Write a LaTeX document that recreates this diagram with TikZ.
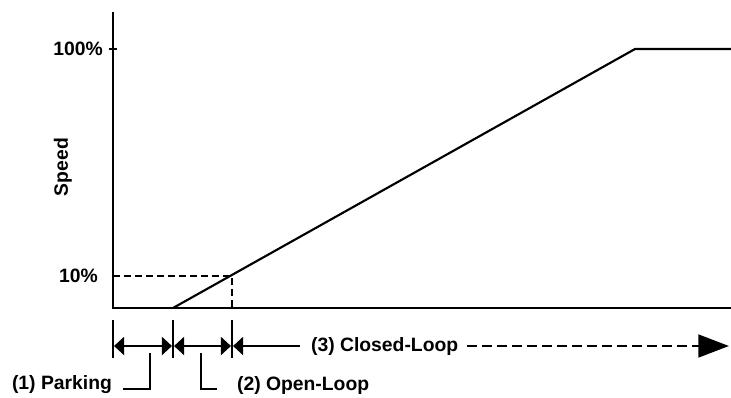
\documentclass[tikz,border=0pt]{standalone}
\usepackage{fontspec}
\setmainfont{Liberation Sans}
\usetikzlibrary{arrows.meta}
\usetikzlibrary{positioning}
\tikzset{lbl/.style = {font=\fontsize{14.5}{17}\selectfont\bfseries, inner sep=0pt},
         tip/.tip = {Triangle[length=7.5pt, width=13.5pt]},
         bigtip/.tip = {Triangle[length=23pt, width=17pt]}}

\begin{document}
\begin{tikzpicture}[x=0.75pt, y=-0.75pt, line width=1.6pt]
    \useasboundingbox (0,0) rectangle (731,397);
    % axes
    \coordinate (top) at (113,12);
    \coordinate (O) at (113,308);
    \coordinate (right) at (731,308);
    \draw (top) -- (O) -- (right);
    \draw (109,49) -- (117,49);
    \node [lbl, anchor=east] (full) at (104,49) {100\%};
    \node [lbl, anchor=east] (ten) at (99,276) {10\%};
    \node [lbl, rotate=90] (speed) at (63,167) {Speed};

    % speed ramp
    \draw (173,308) -- (635,49) -- (731,49);
    \draw [line width=2pt, dash pattern=on 5.25pt off 3pt] (113,276) -- (232,276) -- (232,308);

    % phases
    \foreach \x/\n in {113/a, 173/b, 232/c} {
      \draw (\x,320) -- (\x,358);
      \coordinate (\n) at (\x,346);
    }
    \draw [tip-tip, shorten <=0.8pt, shorten >=0.8pt] (a) -- (b);
    \draw [tip-tip, shorten <=0.8pt, shorten >=0.8pt] (b) -- (c);
    \node [lbl, anchor=west] (closed) at (310,346) {(3) Closed-Loop};
    \coordinate (cl) at (300,346);
    \draw [tip-, shorten <=0.8pt] (c) -- (cl);
    \coordinate (dl) at ([xshift=6pt]closed.east);
    \coordinate (end) at (729,346);
    \draw [line width=2pt, dash pattern=on 7.5pt off 3.75pt, -bigtip] (dl) -- (end);

    \node [lbl, anchor=east] (park) at (113,385) {(1) Parking};
    \node [lbl, anchor=west] (open) at (236,385) {(2) Open-Loop};
    \draw (150,353) |- (123,389);
    \draw (201,353) |- (217,389);
\end{tikzpicture}
\end{document}
